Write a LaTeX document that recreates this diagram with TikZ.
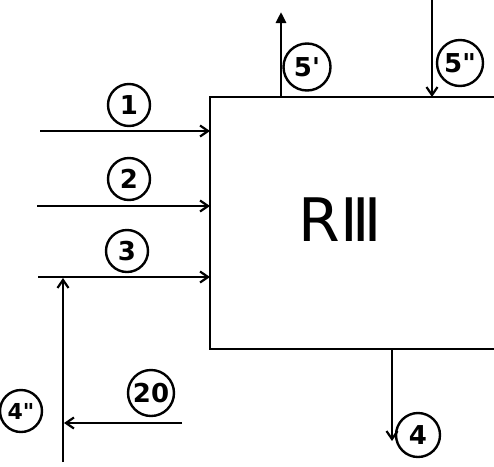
\documentclass[tikz,border=0pt]{standalone}
\usepackage{fontspec}
\setsansfont{DejaVu Sans}
\newfontfamily\labfont{DejaVu Sans}
\usetikzlibrary{arrows.meta}
\begin{document}
\begin{tikzpicture}[x=1pt,y=-1pt,
  line width=2.8pt,
  flow/.style={-{Straight Barb[length=8pt,width=11pt,line width=2.2pt]}},
  num/.style={circle,draw,line width=2.4pt,minimum size=42pt,inner sep=0pt,font=\labfont\bfseries\fontsize{26}{26}\selectfont}]
\useasboundingbox (0,0) rectangle (494,466);
\fill[white] (0,0) rectangle (494,466);
% box (extends beyond right edge)
\draw (494,97) -- (210,97) -- (210,349) -- (494,349);
\node[font=\labfont\fontsize{60}{60}\selectfont] (rlab) at (340,220) {RⅢ};
% inputs
\coordinate (s1) at (40,131); \coordinate (e1) at (210,131);
\coordinate (s2) at (37,206); \coordinate (e2) at (210,206);
\coordinate (s3) at (38,277); \coordinate (e3) at (210,277);
\draw[flow] (s1) -- (e1);
\draw[flow] (s2) -- (e2);
\draw[flow] (s3) -- (e3);
\node[num] (n1) at (129,105) {1};
\node[num] (n2) at (129,179) {2};
\node[num] (n3) at (127,251) {3};
% 4''
\coordinate (v0) at (63,462); \coordinate (v1) at (63,278);
\draw[flow] (v0) -- (v1);
\node[num,font=\labfont\bfseries\fontsize{22}{22}\selectfont] (n4b) at (21,411) {4\textquotedbl};
% 20
\coordinate (t0) at (182,423); \coordinate (t1) at (64,423);
\draw[flow] (t0) -- (t1);
\node[num,minimum size=46pt] (n20) at (151,393) {20};
% 5'
\coordinate (u0) at (281,97); \coordinate (u1) at (281,12);
\draw[-{Triangle[length=11pt,width=10pt]}] (u0) -- (u1);
\node[num,minimum size=47pt] (n5a) at (307,67) {5'};
% 5''
\coordinate (d0) at (432,0); \coordinate (d1) at (432,97);
\draw[flow] (d0) -- (d1);
\node[num,minimum size=46pt] (n5b) at (460,63) {5\textquotedbl};
% 4
\coordinate (f0) at (392,349); \coordinate (f1) at (392,441);
\draw[flow] (f0) -- (f1);
\node[num,minimum size=44pt] (n4) at (418,435) {4};
\end{tikzpicture}
\end{document}
